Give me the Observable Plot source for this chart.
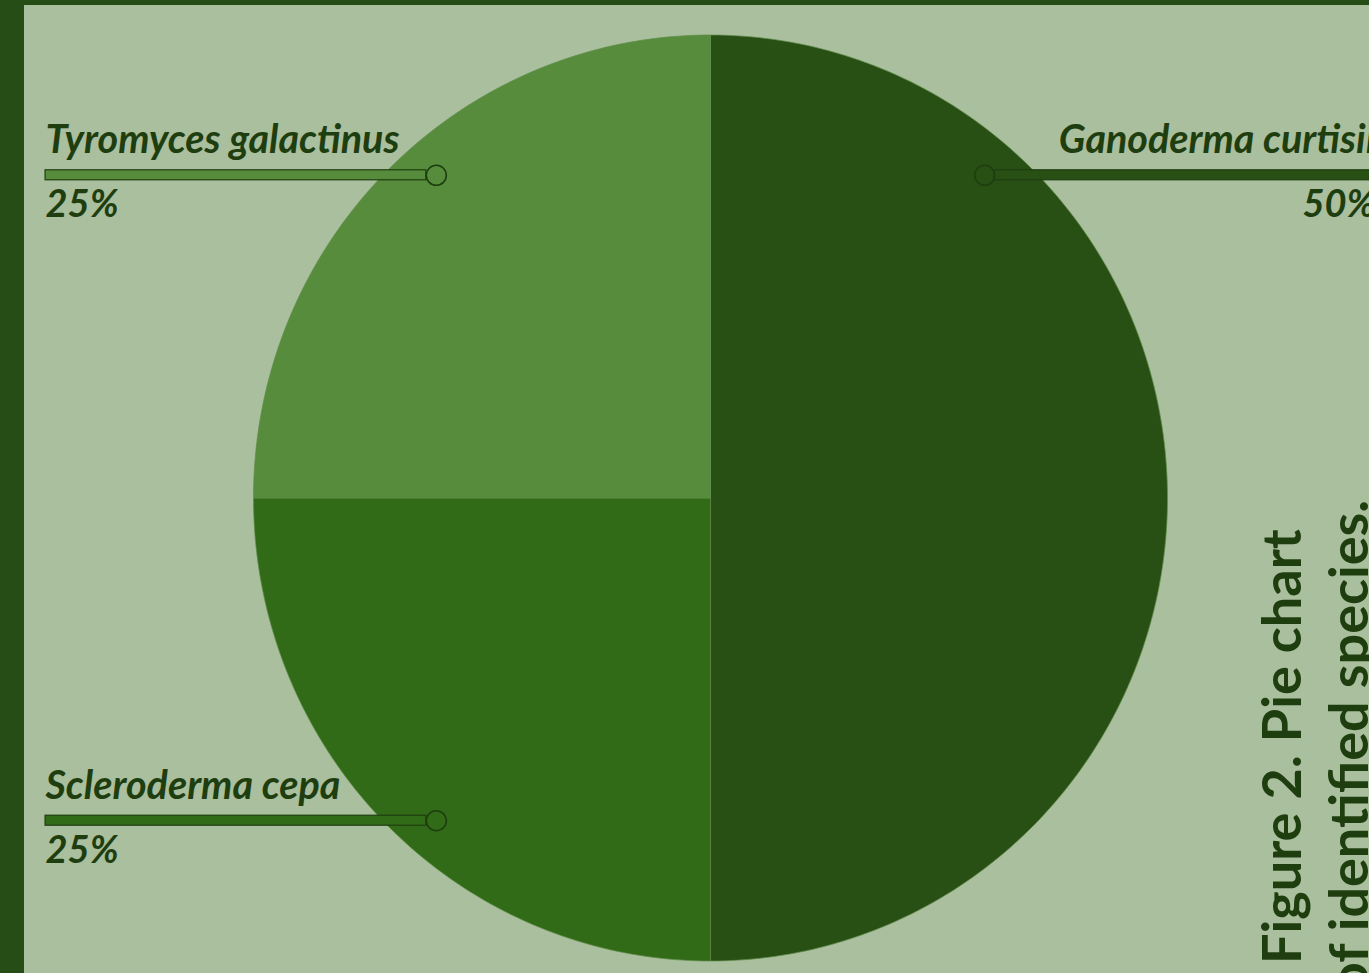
<!DOCTYPE html>
<html><head><meta charset="utf-8">
<script src="https://cdn.jsdelivr.net/npm/d3@7"></script>
<script src="https://cdn.jsdelivr.net/npm/@observablehq/plot@0.6"></script>
<style>
html,body{margin:0;padding:0;background:#264d15;overflow:hidden;width:1369px;height:973px;}
#wrap{position:absolute;left:24px;top:5px;}
</style></head><body><div id="wrap"></div>
<script>
// Data
const species = ["Ganoderma curtisii", "Scleroderma cepa", "Tyromyces galactinus"];
const shares = [50, 25, 25];
const sliceColors = ["#284f14", "#316b17", "#568c3c"];
const titleLines = ["Figure 2. Pie chart", "of identified species."];

// Layout constants
const TEXT = "#1f3e10";
const FONT = "Lato, 'Open Sans', sans-serif";
const LABEL_X = 1.455, ANCHOR_X = 0.6, ANCHOR_Y = 0.697;
const PX_X = 457; // px per data unit (x)
const DOT_R = 10;

const total = d3.sum(shares);
let acc = 0;
const slices = species.map((name, i) => {
  const a0 = acc / total * 2 * Math.PI;
  acc += shares[i];
  const a1 = acc / total * 2 * Math.PI;
  const n = Math.max(2, Math.ceil((a1 - a0) / (Math.PI / 180)));
  const pts = [{x: 0, y: 0}];
  for (let k = 0; k <= n; k++) {
    const a = a0 + (a1 - a0) * k / n;
    pts.push({x: Math.sin(a), y: Math.cos(a)});
  }
  pts.push({x: 0, y: 0});
  const mid = (a0 + a1) / 2;
  const side = Math.sin(mid) > 0.01 ? 1 : -1;
  const row = Math.abs(Math.cos(mid)) > 0.01 ? Math.sign(Math.cos(mid)) : 1;
  return {name, value: shares[i], color: sliceColors[i], pts, side, row,
          ax: side * ANCHOR_X, ay: row * ANCHOR_Y};
});

const marks = [];
for (const s of slices) {
  marks.push(Plot.line(s.pts, {x: "x", y: "y", fill: s.color, stroke: "#5f8c48", strokeWidth: 1, strokeOpacity: 0.7, curve: "linear"}));
}
for (const s of slices) {
  const inner = s.side * (ANCHOR_X + DOT_R / PX_X);
  marks.push(Plot.rect([s], {
    x1: d => d.side * LABEL_X, x2: () => inner, y1: "ay", y2: "ay",
    insetTop: -5, insetBottom: -5, fill: s.color, stroke: TEXT, strokeWidth: 1.2
  }));
  marks.push(Plot.dot([s], {x: "ax", y: "ay", r: DOT_R, fill: "none", stroke: TEXT, strokeWidth: 1.6}));
  marks.push(Plot.text([s], {
    x: d => d.side * LABEL_X, y: "ay", text: "name", dy: -22, lineAnchor: "bottom",
    textAnchor: s.side < 0 ? "start" : "end", fill: TEXT, fontSize: 39.5,
    fontWeight: "bold", fontStyle: "italic", fontFamily: FONT
  }));
  marks.push(Plot.text([s], {
    x: d => d.side * LABEL_X, y: "ay", text: d => d.value + "%", dy: 42, lineAnchor: "bottom",
    textAnchor: s.side < 0 ? "start" : "end", fill: TEXT, fontSize: 38,
    fontWeight: "bold", fontStyle: "italic", fontFamily: FONT
  }));
}
titleLines.forEach((t, i) => {
  marks.push(Plot.text([t], {
    frameAnchor: "top-left", dx: 1276 + i * 67, dy: 741, text: d => d, rotate: -90,
    textAnchor: "middle", lineAnchor: "bottom", fill: TEXT, fontSize: 54,
    fontWeight: "bold", fontFamily: FONT
  }));
});

const chart = Plot.plot({
  width: 1360, height: 975, margin: 0,
  x: {domain: [-1, 1], range: [229, 1143], axis: null},
  y: {domain: [-1, 1], range: [955.5, 29.5], axis: null},
  style: {background: "#a9bf9d", overflow: "visible", maxWidth: "none"},
  marks
});
document.getElementById("wrap").appendChild(chart);
</script></body></html>
